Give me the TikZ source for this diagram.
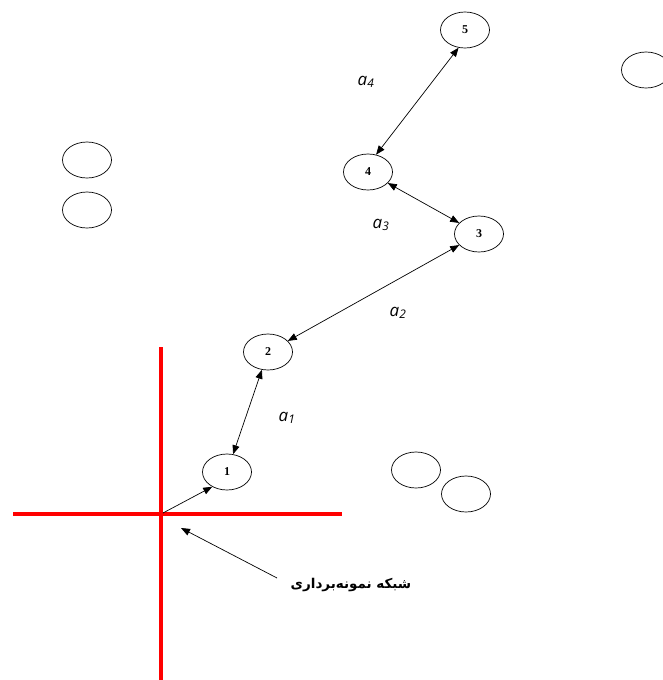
\documentclass[tikz,border=0pt]{standalone}
\usepackage{fontspec}
\newfontfamily\labfont{Open Sans}
\newfontfamily\numfont{Liberation Serif}
\newfontfamily\arabicfont[Script=Arabic]{DejaVu Sans}
\TeXXeTstate=1
\usetikzlibrary{arrows.meta,shapes.geometric}

\begin{document}
\begin{tikzpicture}[
  x=1pt, y=-1pt,
  site/.style={draw, ellipse, line width=0.7pt, minimum width=49pt, minimum height=36pt, inner sep=0pt, font=\numfont\bfseries\fontsize{12}{12}\selectfont},
  dist/.style={font=\labfont\itshape\fontsize{17}{20}\selectfont},
  arr/.style={-{Triangle[length=9pt,width=7pt]}, line width=0.7pt},
  darr/.style={{Triangle[length=9pt,width=7pt]}-{Triangle[length=9pt,width=7pt]}, line width=0.7pt},
  grid/.style={red, line width=4pt}
]
\useasboundingbox (0,0) rectangle (662,680);
\draw[grid] (161,347) -- (161,680);
\draw[grid] (13,514) -- (342,514);
\coordinate (cross) at (163,513);

\node[site] (n1) at (227,472) {1};
\node[site] (n2) at (268,352) {2};
\node[site] (n3) at (479,234) {3};
\node[site] (n4) at (368,172) {4};
\node[site] (n5) at (465,30) {5};

\node[site] (e1) at (646,70) {};
\node[site] (e2) at (87,160) {};
\node[site] (e3) at (87,210) {};
\node[site] (e4) at (416,470) {};
\node[site] (e5) at (466,494) {};

\draw[arr] (cross) -- (n1.225);
\draw[darr] (n1) -- (n2);
\draw[darr] (n2) -- (n3);
\draw[darr] (n4) -- (n3);
\draw[darr] (n4.65) -- (n5.250);

\node[dist] (l1) at (287,418) {a\textsubscript{1}};
\node[dist] (l2) at (398,313) {a\textsubscript{2}};
\node[dist] (l3) at (381,225) {a\textsubscript{3}};
\node[dist] (l4) at (366,82) {a\textsubscript{4}};

\node[font=\arabicfont\bfseries\fontsize{13.5}{15}\selectfont] (net) at (351,585) {\beginR شبکه نمونه‌برداری\endR};
\coordinate (ptr) at (277,578);
\coordinate (tip) at (181,528);
\draw[arr] (ptr) -- (tip);
\end{tikzpicture}
\end{document}
